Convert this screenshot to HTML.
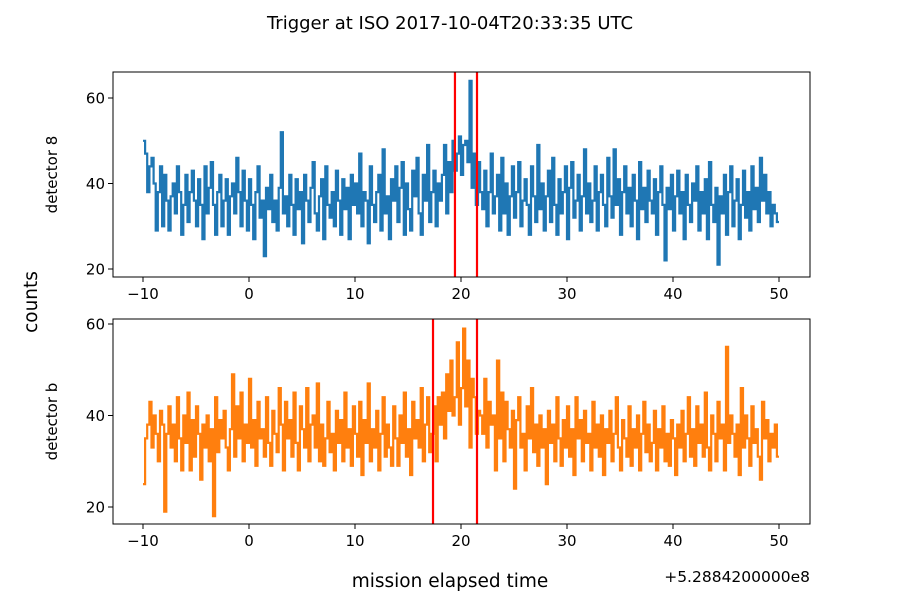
<!DOCTYPE html>
<html><head><meta charset="utf-8"><style>
body{margin:0;background:#fff}
svg text{font-family:"DejaVu Sans","Liberation Sans",sans-serif;fill:#000}
</style></head><body>
<svg id="c" width="900" height="600" xmlns="http://www.w3.org/2000/svg">
<text x="450" y="29" text-anchor="middle" font-size="18">Trigger at ISO 2017-10-04T20:33:35 UTC</text>
<text transform="translate(37,302) rotate(-90)" text-anchor="middle" font-size="18.5">counts</text>
<text x="450" y="587" text-anchor="middle" font-size="18.5">mission elapsed time</text>
<text x="810" y="582" text-anchor="end" font-size="15.5">+5.2884200000e8</text>
</svg>
<script>
const tStart = -10, tStep = 0.2;
const xTicks = [-10, 0, 10, 20, 30, 40, 50];
const topYTicks = [20, 40, 60];
const botYTicks = [20, 40, 60];
const topValues = [50,47,38,44,46,40,29,38,44,30, 42,36,29,37,40,33,44,38,28,35, 42,31,38,43,36,30,41,35,27,44,
 33,39,45,35,28,38,42,30,36,41, 28,37,40,33,46,38,30,43,36,29, 41,35,27,38,44,32,36,23,39,34,
 42,31,36,29,39,52,33,37,30,42, 35,28,41,34,38,26,42,36,31,39, 45,33,29,37,41,27,44,35,32,38,
 30,43,36,28,41,34,39,27,42,35, 40,33,47,30,38,36,26,44,35,31, 38,42,29,48,33,37,27,41,36,44,
 31,39,45,28,40,34,29,43,37,46, 33,28,42,36,49,31,38,43,30,40, 36,42,49,33,45,38,50,43,47,51,
 42,49,50,45,64,39,47,35,45,38, 34,43,30,38,47,33,37,42,29,46, 33,40,28,37,44,32,38,45,30,36,
 41,35,28,44,37,31,49,34,40,29, 37,43,31,46,35,28,41,33,38,44, 27,39,45,32,36,42,29,37,48,33,
 40,31,36,44,29,38,42,35,30,46, 37,32,48,35,41,28,38,44,33,39, 30,42,36,27,45,34,39,31,43,36,
 33,41,28,38,44,35,22,39,34,42, 29,37,43,33,38,27,42,35,31,40, 36,44,29,38,33,41,27,45,35,31,
 39,21,37,33,42,28,38,44,30,36, 41,27,35,43,32,38,29,44,34,39, 31,46,36,42,33,38,30,35,33,31];
const botValues = [25,35,38,43,33,40,36,30,41,38, 19,36,42,33,38,30,44,35,28,40, 34,45,28,39,31,42,36,26,38,33,
 40,30,37,18,44,32,39,35,41,33, 28,37,49,31,42,35,45,30,38,34, 48,33,39,29,43,35,37,31,44,34,
 29,41,36,32,46,38,28,43,35,39, 31,45,34,28,42,37,33,46,30,38, 40,33,47,30,38,29,35,43,32,36,
 28,41,34,39,30,45,33,37,29,42, 36,31,43,27,39,34,47,30,37,33, 41,28,36,44,31,38,33,29,42,35,
 29,40,34,45,31,37,27,43,35,39, 33,46,30,38,44,32,36,42,30,44, 38,45,35,49,41,52,40,44,56,38,
 46,59,42,52,33,48,44,36,41,40, 36,48,33,43,38,40,28,52,35,45, 30,43,37,33,41,24,39,44,33,36,
 28,42,35,46,32,38,29,40,33,37, 25,41,34,38,30,44,35,29,39,33, 42,31,37,27,44,35,39,30,41,34,
 36,28,43,33,38,31,40,27,37,34, 41,30,36,44,33,28,39,35,31,42, 29,37,33,40,28,36,43,32,38,30,
 34,41,28,37,33,42,30,36,29,39, 35,27,38,33,41,30,36,44,31,37, 29,42,34,38,31,45,33,28,40,36,
 30,43,35,38,28,55,34,40,36,31, 38,27,46,33,40,35,29,42,34,37, 31,26,43,35,39,30,36,33,38,31];
const topMarkers = [19.43, 21.51];
const botMarkers = [17.36, 21.51];

const svg = document.getElementById('c');
const NS = 'http://www.w3.org/2000/svg';
function mk(tag, attrs, parent){const e=document.createElementNS(NS,tag);for(const k in attrs)e.setAttribute(k,attrs[k]);(parent||svg).appendChild(e);return e;}
const L=113,R=810;
const xs = t => 143 + (t + 10) * 10.6;

function panel(name, top, bottom, yAt, vals, markers, color, yticks, label){
  const g = mk('g', {});
  
  
  let pts = [];
  vals.forEach((v,i)=>{
    const x0 = xs(tStart+i*tStep), x1 = xs(tStart+(i+1)*tStep);
    pts.push(x0.toFixed(1)+','+yAt(v).toFixed(1));
    pts.push(x1.toFixed(1)+','+yAt(v).toFixed(1));
  });
  const line = mk('polyline',{points:pts.join(' '),fill:'none',stroke:color,'stroke-width':2.2,'stroke-linejoin':'miter'},g);
  
  
  markers.forEach(m=>{
    const ln = mk('line',{x1:xs(m),x2:xs(m),y1:top,y2:bottom,stroke:'red','stroke-width':2.2},g);
    
    
  });
  const fr = mk('rect',{x:L,y:top,width:R-L,height:bottom-top,fill:'none',stroke:'#000','stroke-width':1},g);
  
  
  xTicks.forEach(t=>{
    mk('line',{x1:xs(t),x2:xs(t),y1:bottom,y2:bottom+5,stroke:'#000'},g);
    const tx = mk('text',{x:xs(t),y:bottom+22,'text-anchor':'middle','font-size':15},g);
    tx.textContent = (t<0?'\u2212'+(-t):t);
    
    
  });
  yticks.forEach(v=>{
    mk('line',{x1:L-5,x2:L,y1:yAt(v),y2:yAt(v),stroke:'#000'},g);
    const tx = mk('text',{x:L-8,y:yAt(v)+5.5,'text-anchor':'end','font-size':15},g);
    tx.textContent = v;
    
    
  });
  const yl = mk('text',{transform:`translate(57,${(top+bottom)/2}) rotate(-90)`,'text-anchor':'middle','font-size':15},g);
  yl.textContent = label;
  
  
}
panel('detector-8-panel', 72, 277, v=>269-(v-20)*4.275, topValues, topMarkers, '#1f77b4', topYTicks, 'detector 8');
panel('detector-b-panel', 319, 524, v=>507-(v-20)*4.575, botValues, botMarkers, '#ff7f0e', botYTicks, 'detector b');
</script>
</body></html>
